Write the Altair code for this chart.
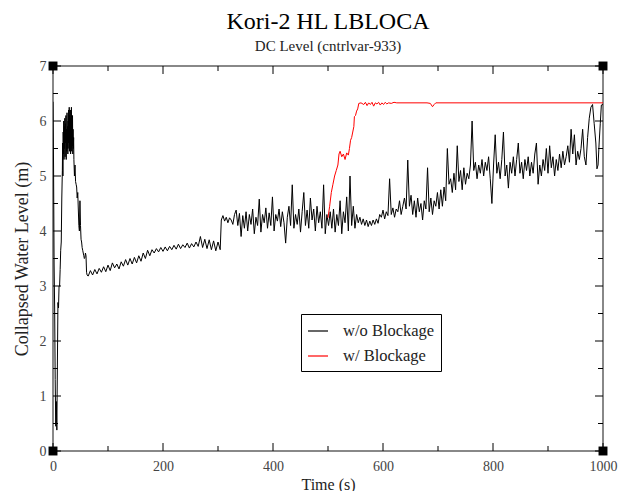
import altair as alt
import pandas as pd

# ---- data ----
time_wo = [0, 1, 2, 3, 4, 5, 6, 7, 8, 9, 10, 11, 12, 13, 14, 15, 16, 17, 17.5, 18, 18.5, 19, 19.5,
           20, 20.5, 21, 21.5, 22, 22.5, 23, 23.5, 24, 24.5, 25, 25.5, 26, 26.5, 27, 27.5, 28, 28.5, 29, 29.5,
           30, 30.5, 31, 31.5, 32, 32.5, 33, 33.5, 34, 34.5, 35, 35.5, 36, 36.5, 37, 37.5, 38, 39,
           40, 41, 42, 43, 44, 45, 46, 47, 48, 49, 50, 51, 52, 53, 54, 55, 56, 57, 58, 59,
           60, 61, 62,
           64, 68, 72, 76, 80, 84, 88, 92, 96, 100, 104, 108, 112, 116, 120, 124, 128, 132, 136, 140,
           144, 148, 152, 156, 160, 164, 168, 172, 176, 180, 184, 188, 192, 196, 200, 204, 208, 212, 216, 220,
           224, 228, 232, 236, 240, 244, 248, 252, 256, 260, 264, 268, 272, 276, 280, 284, 288, 292, 296, 300,
           304, 306,
           309, 312, 315, 318, 321, 324, 327, 330, 333, 336, 339, 342, 345, 348, 351, 354, 357, 360, 363, 366,
           369, 372, 375, 378, 381, 384, 387, 390, 393, 396, 399, 402, 405, 408, 411, 414, 417, 420, 423, 426,
           429, 432, 435, 438, 441, 444, 447, 450, 453, 456, 459, 462, 465, 468, 471, 474, 477, 480, 483, 486,
           489, 492, 495, 498, 501, 504, 507, 510, 513, 516, 519, 522, 525, 528, 531, 534, 537, 540, 543, 546,
           549, 552, 555, 558, 561, 564, 567, 570, 573, 576, 579, 582, 585, 588, 591, 594, 597, 600, 603, 606,
           609, 612, 615, 618, 621, 624, 627, 630, 633, 636, 639, 642, 645, 648, 651, 654, 657, 660, 663, 666,
           669, 672, 675, 678, 681, 684, 687, 690, 693, 696, 699, 702, 705, 708, 711, 714, 717, 720, 723, 726,
           729, 732, 735, 738, 741, 744, 747, 750, 753, 756, 759, 762, 765, 768, 771, 774, 777, 780, 783, 786,
           789, 792, 795, 798, 801, 804, 807, 810, 813, 816, 819, 822, 825, 828, 831, 834, 837, 840, 843, 846,
           849, 852, 855, 858, 861, 864, 867, 870, 873, 876, 879, 882, 885, 888, 891, 894, 897, 900, 903, 906,
           909, 912, 915, 918, 921, 924, 927, 930, 933, 936, 939, 942, 945, 948, 951, 954, 957, 960, 963, 966,
           969, 972, 975, 978, 981, 984, 987, 989, 991, 993, 995, 997, 1000]

level_wo = [6.35, 5.2, 3.4, 2.6, 1.3, 0.45, 0.9, 0.38, 1.6, 2.7, 2.6, 3.0, 3.0, 3.3, 3.65, 3.8, 4.6, 5.1, 5.6, 5.0, 5.8, 5.4, 6.0,
            5.3, 5.9, 5.5, 6.05, 5.35, 5.95, 5.6, 6.1, 5.3, 5.85, 5.45, 6.15, 5.5, 5.9, 5.4, 6.0, 5.6, 6.2, 5.5, 6.25,
            5.45, 6.1, 5.6, 6.2, 5.4, 6.05, 5.5, 6.25, 5.45, 5.95, 5.55, 6.1, 5.4, 5.85, 5.5, 5.7, 5.3, 5.0,
            5.2, 4.9, 4.85, 4.8, 4.6, 4.7, 4.4, 4.1, 4.0, 4.55, 4.1, 3.85, 3.8, 3.7, 3.65, 3.6, 3.55, 3.5, 3.52, 3.6,
            3.55, 3.25, 3.2,
            3.18, 3.28, 3.20, 3.30, 3.22, 3.32, 3.25, 3.35, 3.26, 3.38, 3.28, 3.42, 3.33, 3.40, 3.31, 3.44, 3.36, 3.48, 3.38, 3.50,
            3.40, 3.52, 3.42, 3.55, 3.45, 3.60, 3.50, 3.65, 3.55, 3.66, 3.60, 3.68, 3.62, 3.70, 3.63, 3.71, 3.64, 3.72, 3.66, 3.74,
            3.67, 3.76, 3.68, 3.75, 3.70, 3.78, 3.69, 3.77, 3.71, 3.80, 3.72, 3.90, 3.70, 3.85, 3.68, 3.84, 3.66, 3.82, 3.64, 3.80,
            3.66, 4.20,
            4.28, 4.18, 4.25, 4.15, 4.24, 4.20, 4.12, 4.30, 4.38, 4.10, 4.32, 3.90, 4.28, 4.05, 4.35, 4.00, 4.30, 4.12, 4.40, 3.95,
            4.25, 4.10, 4.58, 3.98, 4.30, 4.15, 4.42, 4.05, 4.33, 4.10, 4.62, 4.00, 4.30, 4.18, 4.40, 4.08, 4.35, 4.15, 3.78, 4.25,
            4.45, 4.10, 4.84, 4.05, 4.30, 4.12, 4.40, 3.98, 4.35, 4.70, 4.10, 4.38, 4.05, 4.60, 4.20, 4.40, 4.00, 4.45, 4.15, 4.35,
            4.05, 4.84, 3.95, 4.30, 4.10, 4.35, 4.05, 4.40, 3.98, 4.30, 4.10, 4.55, 3.95, 4.35, 4.15, 4.62, 4.00, 5.00, 4.10, 4.45,
            4.05, 4.30, 4.15, 4.25, 4.12, 4.22, 4.10, 4.20, 4.08, 4.18, 4.10, 4.20, 4.12, 4.22, 4.14, 4.30, 4.25, 4.38, 4.22, 4.35,
            4.28, 4.95, 4.30, 4.42, 4.25, 4.40, 4.35, 4.55, 4.30, 4.45, 4.60, 4.40, 5.29, 4.45, 4.65, 4.30, 4.55, 4.25, 4.60, 4.35,
            4.50, 4.20, 4.55, 4.40, 5.15, 4.35, 4.60, 4.30, 4.55, 4.45, 4.70, 4.40, 4.75, 4.45, 4.80, 4.55, 5.50, 4.85, 4.95, 4.70,
            5.05, 4.75, 5.55, 4.90, 5.10, 4.75, 5.15, 4.85, 5.05, 4.95, 5.20, 6.00, 5.10, 5.25, 4.95, 5.20, 5.05, 5.30, 5.00, 5.25,
            5.10, 5.35, 4.95, 4.50, 5.20, 5.75, 5.05, 5.25, 4.95, 5.30, 5.80, 5.00, 5.20, 4.78, 5.25, 5.05, 5.35, 5.00, 5.30, 5.60,
            5.05, 5.25, 4.95, 5.30, 5.10, 5.35, 5.00, 5.25, 5.05, 5.40, 5.60, 4.85, 5.20, 5.00, 5.30, 5.10, 5.50, 5.05, 5.55, 5.15,
            5.35, 5.00, 5.30, 5.10, 5.40, 5.15, 5.45, 5.20, 5.35, 5.55, 5.25, 5.85, 5.40, 5.75, 5.20, 5.45, 5.30, 5.50, 5.85, 5.35,
            5.20, 5.70, 6.05, 6.25, 6.30, 5.95, 5.60, 5.13, 5.20, 5.60, 5.95, 6.29, 6.30]

time_w = [500, 503, 506, 509, 512, 515, 518, 520, 522, 525, 528, 531, 534, 537, 539, 541, 543, 545, 547, 548,
          550, 552, 554, 556, 560, 565, 568, 571, 574, 577, 580, 583, 586, 589, 592, 595, 598, 601, 604, 607,
          610, 615, 620, 625, 640, 660, 680, 686, 690, 693, 696, 720, 800, 900, 1000]
level_w = [4.24, 4.45, 4.70, 4.85, 5.00, 5.10, 5.20, 5.40, 5.45, 5.35, 5.40, 5.30, 5.42, 5.38, 5.50, 5.65, 5.70, 5.80, 5.90, 6.08,
           6.10, 6.18, 6.22, 6.32, 6.33, 6.30, 6.34, 6.28, 6.33, 6.30, 6.34, 6.27, 6.33, 6.31, 6.34, 6.29, 6.33, 6.30, 6.34, 6.31,
           6.33, 6.32, 6.34, 6.33, 6.33, 6.33, 6.33, 6.32, 6.26, 6.30, 6.33, 6.33, 6.33, 6.33, 6.33]

series_names = ["w/o Blockage", "w/ Blockage"]
series_colors = ["#000000", "#ff0000"]

x_major = [0, 200, 400, 600, 800, 1000]
x_minor = [100, 300, 500, 700, 900]
y_major = [0, 1, 2, 3, 4, 5, 6, 7]
y_minor = [0.5, 1.5, 2.5, 3.5, 4.5, 5.5, 6.5]

# ---- layout ----
W, H = 550, 385
XMIN, XMAX, YMIN, YMAX = 0, 1000, 0, 7
px_x = W / (XMAX - XMIN)
px_y = H / (YMAX - YMIN)
MAJ, MIN = 8, 5  # tick lengths in px
SERIF = "Liberation Serif"

df = pd.concat([
    pd.DataFrame({"t": time_wo, "v": level_wo, "series": series_names[0]}),
    pd.DataFrame({"t": time_w, "v": level_w, "series": series_names[1]}),
])

rows = []
for xs_, ln in ((x_major, MAJ), (x_minor, MIN)):
    for x in xs_:
        rows.append({"t": x, "t2": x, "v": YMIN, "v2": YMIN + ln / px_y})
        rows.append({"t": x, "t2": x, "v": YMAX, "v2": YMAX - ln / px_y})
for ys_, ln in ((y_major, MAJ), (y_minor, MIN)):
    for y in ys_:
        rows.append({"t": XMIN, "t2": XMIN + ln / px_x, "v": y, "v2": y})
        rows.append({"t": XMAX, "t2": XMAX - ln / px_x, "v": y, "v2": y})
ticks_df = pd.DataFrame(rows)
corners_df = pd.DataFrame({"t": [XMIN, XMAX, XMIN, XMAX], "v": [YMIN, YMIN, YMAX, YMAX]})

xs = alt.Scale(domain=[XMIN, XMAX], nice=False, zero=False)
ys = alt.Scale(domain=[YMIN, YMAX], nice=False, zero=False)

x_axis = alt.Axis(
    values=x_major, format="d", grid=False, domain=False, ticks=False, labelFlush=False,
    labelFont=SERIF, labelFontSize=14, labelColor="#444", labelPadding=8,
    titleFont=SERIF, titleFontSize=16, titleFontWeight="normal", titleColor="#222", titlePadding=3)
y_axis = alt.Axis(
    values=y_major, format="d", grid=False, domain=False, ticks=False, labelFlush=False,
    labelFont=SERIF, labelFontSize=14, labelColor="#444", labelPadding=7,
    titleFont=SERIF, titleFontSize=18, titleFontWeight="normal", titleColor="#222", titlePadding=8)

X = alt.X("t:Q", scale=xs, axis=x_axis, title="Time (s)")
Y = alt.Y("v:Q", scale=ys, axis=y_axis, title="Collapsed Water Level (m)")

lines = alt.Chart(df).mark_line(strokeWidth=1, clip=True).encode(
    x=X, y=Y,
    color=alt.Color("series:N", sort=series_names,
                    scale=alt.Scale(domain=series_names, range=series_colors),
                    legend=alt.Legend(title=None, orient="none", legendX=248, legendY=248,
                                      strokeColor="#000", fillColor="#fff", padding=6,
                                      symbolType="stroke", symbolSize=400, symbolStrokeWidth=1.2,
                                      labelFont=SERIF, labelFontSize=16.5, labelColor="#222",
                                      labelOffset=14, rowPadding=5)),
)

tick_layer = alt.Chart(ticks_df).mark_rule(color="#000", strokeWidth=1).encode(
    x=X, x2="t2:Q", y=Y, y2="v2:Q",
)

corner_layer = alt.Chart(corners_df).mark_square(size=80, color="#000", opacity=1, filled=True).encode(
    x=X, y=Y,
)

chart = alt.layer(lines, tick_layer, corner_layer).properties(
    width=W, height=H,
    autosize=alt.AutoSizeParams(type="none"),
    padding={"left": 45, "top": 58, "right": 21, "bottom": 40},
    title=alt.TitleParams("Kori-2 HL LBLOCA", subtitle="DC Level (cntrlvar-933)",
                          font=SERIF, fontSize=24, fontWeight="normal", color="#000",
                          subtitleFont=SERIF, subtitleFontSize=15, subtitleColor="#222",
                          anchor="middle", offset=5, subtitlePadding=5),
).configure_view(stroke="#888", strokeWidth=2)

chart.save("out.html", embed_options={"renderer": "svg", "actions": False})
